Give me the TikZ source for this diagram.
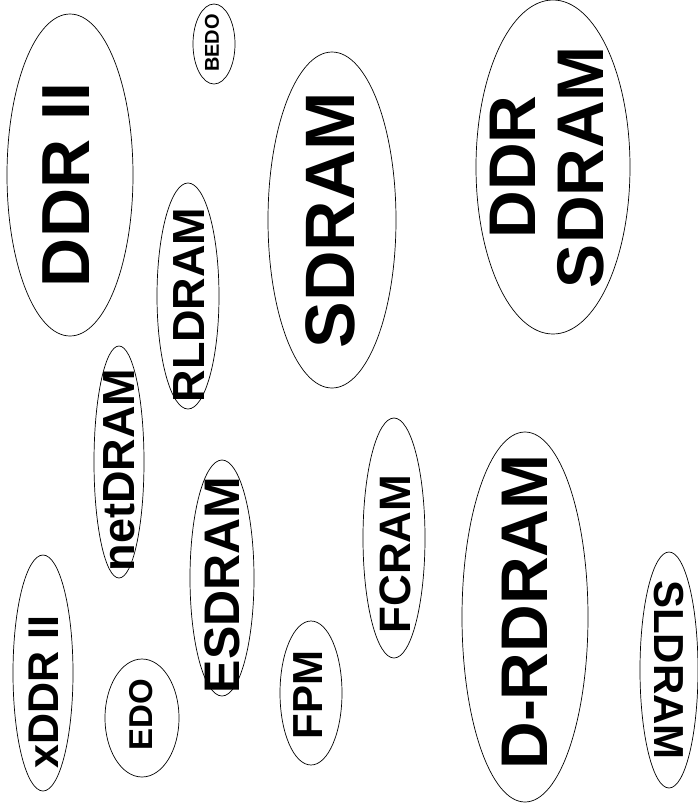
\documentclass[tikz,border=0pt]{standalone}
\usepackage{fontspec}
\setmainfont{Liberation Sans}
\newcommand{\wsz}[1]{\fontsize{#1}{#1}\selectfont}
\tikzset{
  word/.style={inner sep=0pt, rotate=90, align=center},
  blob/.style={draw, line width=0.7pt},
}
\begin{document}
\begin{tikzpicture}[x=1pt, y=-1pt]
\useasboundingbox (0,0) rectangle (698,812);

% labels
\node[word, font={\bfseries\wsz{68}}] (ddrii) at (66,185) {DDR II};
\node[word, font={\bfseries\wsz{20}}] (bedo) at (212,43) {BEDO};
\node[word, font={\bfseries\wsz{70}}] (sdram) at (330,220) {SDRAM};
\node[word, font={\bfseries\fontsize{66}{68}\selectfont}] (ddrsdram) at (547,167) {DDR\\SDRAM};
\node[word, font={\bfseries\wsz{45}}] (rldram) at (189,305) {RLDRAM};
\node[word, font={\bfseries\wsz{45}}] (netdram) at (119,470) {netDRAM};
\node[word, font={\bfseries\wsz{50}}] (esdram) at (222,585) {ESDRAM};
\node[word, font={\bfseries\wsz{44}}] (fcram) at (395,554) {FCRAM};
\node[word, font={\bfseries\wsz{66}}] (drdram) at (525,612) {D-RDRAM};
\node[word, font={\bfseries\wsz{43}}] (xddrii) at (44,692) {xDDR II};
\node[word, font={\bfseries\wsz{33}}] (edo) at (141,715) {EDO};
\node[word, font={\bfseries\wsz{42}}] (fpm) at (308,695) {FPM};
\node[word, rotate=180, font={\bfseries\wsz{42}}] (sldram) at (669,670) {SLDRAM};

% ellipses
\draw[blob] (70,175) ellipse [x radius=63, y radius=161];
\draw[blob] (214,44) ellipse [x radius=21, y radius=40];
\draw[blob] (332,220) ellipse [x radius=64, y radius=168];
\draw[blob] (553,167) ellipse [x radius=77, y radius=167];
\draw[blob] (188,296) ellipse [x radius=31, y radius=113];
\draw[blob] (119,462) ellipse [x radius=25, y radius=116];
\draw[blob] (222,578) ellipse [x radius=32, y radius=118];
\draw[blob] (394,538) ellipse [x radius=31, y radius=120];
\draw[blob] (525,617) ellipse [x radius=63, y radius=185];
\draw[blob] (43,673) ellipse [x radius=30, y radius=118];
\draw[blob] (142,718) ellipse [x radius=37, y radius=59];
\draw[blob] (311,693) ellipse [x radius=31, y radius=72];
\draw[blob] (669,670) ellipse [x radius=29, y radius=118];
\end{tikzpicture}
\end{document}
